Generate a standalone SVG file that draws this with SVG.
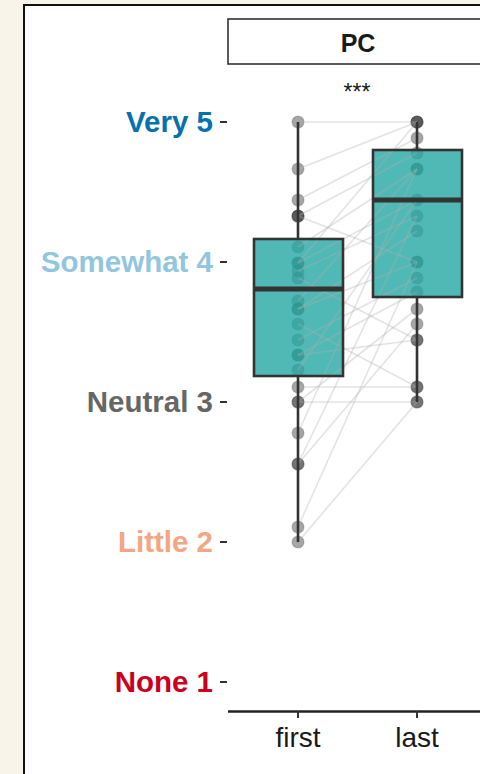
<svg xmlns="http://www.w3.org/2000/svg" width="480" height="774" viewBox="0 0 480 774">
<style>
.ylab{font-family:"Liberation Sans",Arial,sans-serif;font-weight:bold;font-size:29.5px;text-anchor:end}
.xlab{font-family:"Liberation Sans",Arial,sans-serif;font-size:28px;fill:#1a1a1a;text-anchor:middle}
.tick{stroke:#333;stroke-width:2}
.pair{stroke:#b0b0b0;stroke-opacity:0.35;stroke-width:1.6;fill:none}
.pt{fill:#3a3a3a;fill-opacity:0.45;stroke:#3a3a3a;stroke-opacity:0.25;stroke-width:1.2}
.boxfill{fill:#25a8a3;fill-opacity:0.8}
.boxline{fill:none;stroke:#333;stroke-width:2.6}
.med{stroke:#333;stroke-width:5}
.whisk{stroke:#333;stroke-width:2.6}
</style>
<rect x="0" y="0" width="480" height="774" fill="#f8f4e9"/>
<rect id="panel" x="24" y="5" width="470" height="790" fill="#ffffff" stroke="#111" stroke-width="2"/>
<g id="strip">
<rect x="228" y="19" width="270" height="45" fill="#ffffff" stroke="#333" stroke-width="1.6"/>
<text x="358" y="52" font-family="'Liberation Sans',Arial,sans-serif" font-weight="bold" font-size="25" text-anchor="middle" fill="#1a1a1a">PC</text>
</g>
<text id="signif" x="357" y="100" font-family="'Liberation Sans',Arial,sans-serif" font-size="23" text-anchor="middle" fill="#1a1a1a">***</text>
<g id="y-axis">
<text class="ylab" x="213" y="132" fill="#0571b0">Very 5</text>
<text class="ylab" x="213" y="272" fill="#92c5de">Somewhat 4</text>
<text class="ylab" x="213" y="412" fill="#666666">Neutral 3</text>
<text class="ylab" x="213" y="552" fill="#f4a582">Little 2</text>
<text class="ylab" x="213" y="692" fill="#ca0020">None 1</text>
<line class="tick" x1="220" y1="122" x2="227" y2="122"/>
<line class="tick" x1="220" y1="262" x2="227" y2="262"/>
<line class="tick" x1="220" y1="402" x2="227" y2="402"/>
<line class="tick" x1="220" y1="542" x2="227" y2="542"/>
<line class="tick" x1="220" y1="682" x2="227" y2="682"/>
</g>
<g id="x-axis">
<line x1="228" y1="711.5" x2="480" y2="711.5" stroke="#222" stroke-width="2.5"/>
<line class="tick" x1="298" y1="711" x2="298" y2="718"/>
<line class="tick" x1="417" y1="711" x2="417" y2="718"/>
<text class="xlab" x="298" y="747">first</text>
<text class="xlab" x="417" y="747">last</text>
</g>
<g id="points-first">
<circle class="pt" cx="298" cy="122" r="6"/>
<circle class="pt" cx="298" cy="169" r="6"/>
<circle class="pt" cx="298" cy="200" r="6"/>
<circle class="pt" cx="298" cy="216" r="6"/>
<circle class="pt" cx="298" cy="216" r="6"/>
<circle class="pt" cx="298" cy="216" r="6"/>
<circle class="pt" cx="298" cy="247" r="6"/>
<circle class="pt" cx="298" cy="263" r="6"/>
<circle class="pt" cx="298" cy="263" r="6"/>
<circle class="pt" cx="298" cy="271" r="6"/>
<circle class="pt" cx="298" cy="278" r="6"/>
<circle class="pt" cx="298" cy="301" r="6"/>
<circle class="pt" cx="298" cy="309" r="6"/>
<circle class="pt" cx="298" cy="309" r="6"/>
<circle class="pt" cx="298" cy="324" r="6"/>
<circle class="pt" cx="298" cy="340" r="6"/>
<circle class="pt" cx="298" cy="355" r="6"/>
<circle class="pt" cx="298" cy="355" r="6"/>
<circle class="pt" cx="298" cy="370" r="6"/>
<circle class="pt" cx="298" cy="387" r="6"/>
<circle class="pt" cx="298" cy="402" r="6"/>
<circle class="pt" cx="298" cy="402" r="6"/>
<circle class="pt" cx="298" cy="433" r="6"/>
<circle class="pt" cx="298" cy="464" r="6"/>
<circle class="pt" cx="298" cy="464" r="6"/>
<circle class="pt" cx="298" cy="527" r="6"/>
<circle class="pt" cx="298" cy="542" r="6"/>
</g>
<g id="points-last">
<circle class="pt" cx="417" cy="122" r="6"/>
<circle class="pt" cx="417" cy="122" r="6"/>
<circle class="pt" cx="417" cy="122" r="6"/>
<circle class="pt" cx="417" cy="138" r="6"/>
<circle class="pt" cx="417" cy="153" r="6"/>
<circle class="pt" cx="417" cy="169" r="6"/>
<circle class="pt" cx="417" cy="169" r="6"/>
<circle class="pt" cx="417" cy="200" r="6"/>
<circle class="pt" cx="417" cy="216" r="6"/>
<circle class="pt" cx="417" cy="231" r="6"/>
<circle class="pt" cx="417" cy="262" r="6"/>
<circle class="pt" cx="417" cy="262" r="6"/>
<circle class="pt" cx="417" cy="278" r="6"/>
<circle class="pt" cx="417" cy="292" r="6"/>
<circle class="pt" cx="417" cy="309" r="6"/>
<circle class="pt" cx="417" cy="324" r="6"/>
<circle class="pt" cx="417" cy="340" r="6"/>
<circle class="pt" cx="417" cy="340" r="6"/>
<circle class="pt" cx="417" cy="387" r="6"/>
<circle class="pt" cx="417" cy="387" r="6"/>
<circle class="pt" cx="417" cy="402" r="6"/>
<circle class="pt" cx="417" cy="402" r="6"/>
</g>
<g id="box-fills">
<rect class="boxfill" x="254" y="239" width="89" height="137"/>
<rect class="boxfill" x="373" y="150" width="89" height="147"/>
</g>
<g id="connectors">
<line class="pair" x1="298" y1="122" x2="417" y2="122"/>
<line class="pair" x1="298" y1="169" x2="417" y2="122"/>
<line class="pair" x1="298" y1="200" x2="417" y2="138"/>
<line class="pair" x1="298" y1="216" x2="417" y2="153"/>
<line class="pair" x1="298" y1="216" x2="417" y2="262"/>
<line class="pair" x1="298" y1="247" x2="417" y2="169"/>
<line class="pair" x1="298" y1="263" x2="417" y2="122"/>
<line class="pair" x1="298" y1="263" x2="417" y2="200"/>
<line class="pair" x1="298" y1="271" x2="417" y2="216"/>
<line class="pair" x1="298" y1="278" x2="417" y2="340"/>
<line class="pair" x1="298" y1="301" x2="417" y2="169"/>
<line class="pair" x1="298" y1="309" x2="417" y2="231"/>
<line class="pair" x1="298" y1="309" x2="417" y2="262"/>
<line class="pair" x1="298" y1="324" x2="417" y2="387"/>
<line class="pair" x1="298" y1="340" x2="417" y2="278"/>
<line class="pair" x1="298" y1="355" x2="417" y2="292"/>
<line class="pair" x1="298" y1="355" x2="417" y2="340"/>
<line class="pair" x1="298" y1="370" x2="417" y2="200"/>
<line class="pair" x1="298" y1="387" x2="417" y2="387"/>
<line class="pair" x1="298" y1="402" x2="417" y2="402"/>
<line class="pair" x1="298" y1="402" x2="417" y2="309"/>
<line class="pair" x1="298" y1="433" x2="417" y2="169"/>
<line class="pair" x1="298" y1="464" x2="417" y2="216"/>
<line class="pair" x1="298" y1="464" x2="417" y2="324"/>
<line class="pair" x1="298" y1="527" x2="417" y2="262"/>
<line class="pair" x1="298" y1="542" x2="417" y2="402"/>
</g>
<g id="box-first">
<line class="whisk" x1="298" y1="122" x2="298" y2="239"/>
<line class="whisk" x1="298" y1="376" x2="298" y2="542"/>
<rect class="boxline" x="254" y="239" width="89" height="137"/>
<line class="med" x1="254" y1="289" x2="343" y2="289"/>
</g>
<g id="box-last">
<line class="whisk" x1="417" y1="122" x2="417" y2="150"/>
<line class="whisk" x1="417" y1="297" x2="417" y2="402"/>
<rect class="boxline" x="373" y="150" width="89" height="147"/>
<line class="med" x1="373" y1="200" x2="462" y2="200"/>
</g>
</svg>
